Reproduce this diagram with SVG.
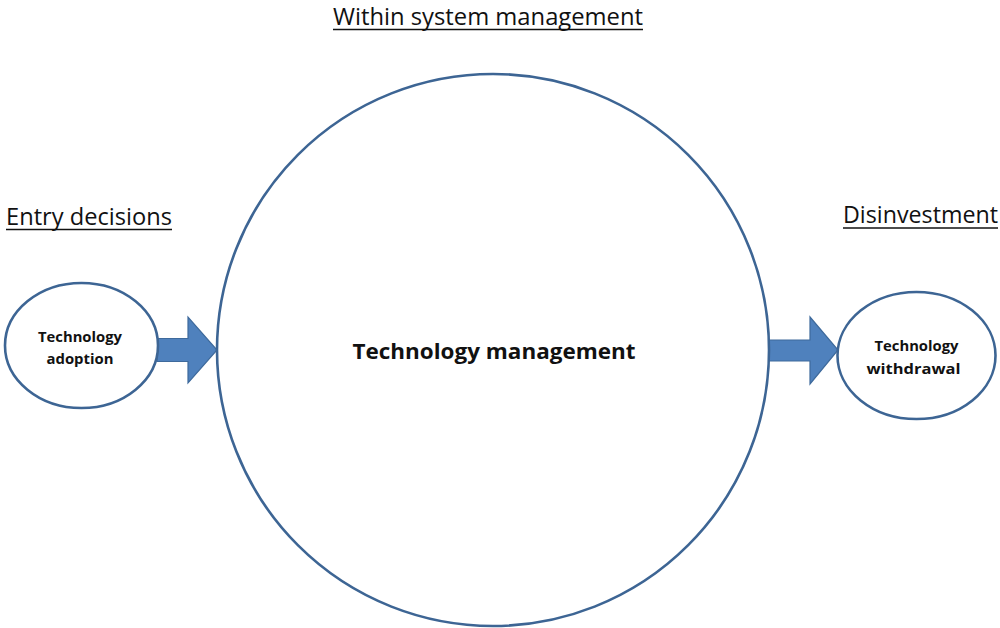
<svg xmlns="http://www.w3.org/2000/svg" width="1000" height="628" viewBox="0 0 1000 628">
  <style>
    .shape { fill: #ffffff; stroke: #3d6594; stroke-width: 2.6; }
    .arrow { fill: #4f81bd; stroke: #3e6a9c; stroke-width: 1.2; }
    .heading { font-family: "Open Sans", "Liberation Sans", sans-serif; font-size: 23.5px; fill: #111111; }
    .under { stroke: #111111; stroke-width: 1.6; }
    .label { font-family: "Open Sans", "Liberation Sans", sans-serif; font-weight: bold; fill: #111111; text-anchor: middle; }
    .big { font-size: 21px; }
    .small { font-size: 14.2px; }
  </style>

  <!-- section headings -->
  <g id="headings">
    <text class="heading" x="333" y="25" textLength="310" lengthAdjust="spacingAndGlyphs">Within system management</text>
    <line class="under" x1="333" y1="29.5" x2="643" y2="29.5"/>
    <text class="heading" x="6" y="225" textLength="166" lengthAdjust="spacingAndGlyphs">Entry decisions</text>
    <line class="under" x1="6" y1="229.5" x2="172" y2="229.5"/>
    <text class="heading" x="843" y="223" textLength="155" lengthAdjust="spacingAndGlyphs">Disinvestment</text>
    <line class="under" x1="843" y1="228" x2="998" y2="228"/>
  </g>

  <!-- connectors -->
  <g id="connectors">
    <path class="arrow" d="M157,338.5 H188 V317 L217,350 L188,383 V361.5 H157 Z"/>
    <path class="arrow" d="M769,340 H810 V317 L838,350 L810,384 V361 H769 Z"/>
  </g>

  <g id="technology-management">
    <circle class="shape" cx="493" cy="350" r="276"/>
    <text class="label big" x="494" y="358.5" textLength="283" lengthAdjust="spacingAndGlyphs">Technology management</text>
  </g>

  <g id="technology-adoption">
    <ellipse class="shape" cx="81.5" cy="345.5" rx="76.5" ry="62.5"/>
    <text class="label small" x="80" y="342" textLength="84" lengthAdjust="spacingAndGlyphs">Technology</text>
    <text class="label small" x="80" y="364" textLength="67" lengthAdjust="spacingAndGlyphs">adoption</text>
  </g>

  <g id="technology-withdrawal">
    <ellipse class="shape" cx="916.5" cy="355.5" rx="79" ry="63.5"/>
    <text class="label small" x="916.5" y="351" textLength="84" lengthAdjust="spacingAndGlyphs">Technology</text>
    <text class="label small" x="913.5" y="374" textLength="94" lengthAdjust="spacingAndGlyphs">withdrawal</text>
  </g>
</svg>
